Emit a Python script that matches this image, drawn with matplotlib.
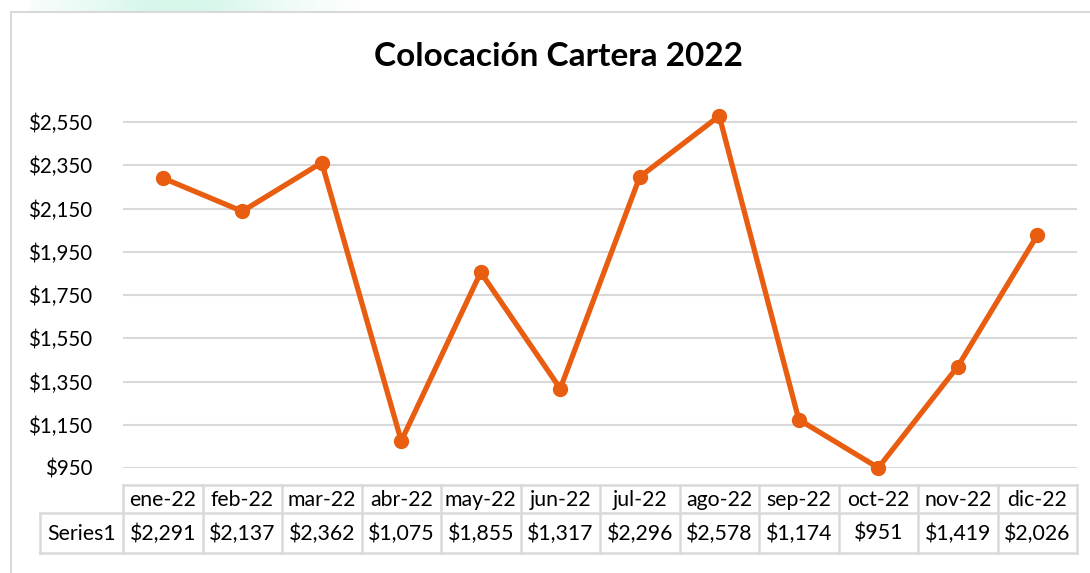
import numpy as np
import matplotlib.pyplot as plt
import matplotlib.transforms as mtransforms

# data
months = ['ene-22', 'feb-22', 'mar-22', 'abr-22', 'may-22', 'jun-22',
          'jul-22', 'ago-22', 'sep-22', 'oct-22', 'nov-22', 'dic-22']
values = [2291, 2137, 2362, 1075, 1855, 1317, 2296, 2578, 1174, 951, 1419, 2026]
series_name = 'Series1'
y_ticks = list(range(950, 2551, 200))
title = 'Colocación Cartera 2022'

plt.rcParams['font.family'] = ['Lato', 'DejaVu Sans']

W, H = 1090, 573
fig = plt.figure(figsize=(W / 100, H / 100), dpi=100)

# faint mint blob at the top (screenshot leftover)
grad = np.linspace(0, 1, 200)
bg = np.ones((1, 200, 4))
bg[0, :, 0] = 0.80
bg[0, :, 1] = 0.96
bg[0, :, 2] = 0.90
bg[0, :, 3] = np.exp(-((grad - 0.45) / 0.35) ** 2) * 0.8
bax = fig.add_axes([30 / W, (H - 12) / H, 330 / W, 12 / H])
bax.imshow(bg, aspect='auto', extent=(0, 1, 0, 1))
bax.axis('off')

# chart frame
fig.add_artist(plt.Line2D([11 / W, 11 / W], [0, (H - 12) / H], color='#D9D9D9', lw=1.5))
fig.add_artist(plt.Line2D([11 / W, 1], [(H - 12) / H, (H - 12) / H], color='#D9D9D9', lw=1.5))

# plot area: 950 at y=468px, 2550 at y=122px
px_per_unit = (468 - 122) / 1600
ymin, ymax = 950, 2650
top_px = 468 - (ymax - ymin) * px_per_unit
left, right = 123, 1077
ax = fig.add_axes([left / W, (H - 468) / H, (right - left) / W, (468 - top_px) / H])

x = np.arange(len(months))
ax.plot(x, values, color='#E85D10', lw=3.8, marker='o', markersize=10,
        solid_joinstyle='round', zorder=3, clip_on=False)

ax.set_xlim(-0.5, len(months) - 0.5)
ax.set_ylim(ymin, ymax)
ax.set_yticks(y_ticks)
ax.set_yticklabels(['${:,}'.format(v) for v in y_ticks], fontsize=14.8)
ax.tick_params(axis='y', length=0, pad=22)
ax.set_xticks([])
ax.grid(axis='y', color='#D9D9D9', lw=1.5)
ax.set_axisbelow(True)
for s in ax.spines.values():
    s.set_visible(False)

fig.text(558 / W, 1 - 57 / H, title, ha='center', va='center',
         fontsize=24, fontweight='bold')

# data table under the plot, columns follow the x categories
tr = mtransforms.blended_transform_factory(ax.transData, fig.transFigure)


def fy(p):
    return 1 - p / H


col_w = (right - left) / len(months)
label_left = -0.5 - (left - 40) / col_w
row_top, row_mid, row_bot = 485, 513, 553
lc = '#D9D9D9'
lw = 1.8
ax.plot([-0.5, len(months) - 0.5], [fy(row_top)] * 2, transform=tr, color=lc, lw=lw, clip_on=False)
for yy in [row_mid, row_bot]:
    ax.plot([label_left, len(months) - 0.5], [fy(yy)] * 2, transform=tr, color=lc, lw=lw, clip_on=False)
for i in range(len(months) + 1):
    ax.plot([i - 0.5] * 2, [fy(row_top), fy(row_bot)], transform=tr, color=lc, lw=lw, clip_on=False)
ax.plot([label_left] * 2, [fy(row_mid), fy(row_bot)], transform=tr, color=lc, lw=lw, clip_on=False)

fs = 15.3
for i, (m, v) in enumerate(zip(months, values)):
    ax.text(i, fy((row_top + row_mid) / 2 + 1), m, transform=tr, ha='center', va='center', fontsize=fs)
    ax.text(i, fy((row_mid + row_bot) / 2 + 1), '${:,}'.format(v), transform=tr, ha='center', va='center', fontsize=fs)
ax.text((label_left - 0.5) / 2, fy((row_mid + row_bot) / 2 + 1), series_name, transform=tr,
        ha='center', va='center', fontsize=fs)

fig.savefig('out.png', dpi=100)
